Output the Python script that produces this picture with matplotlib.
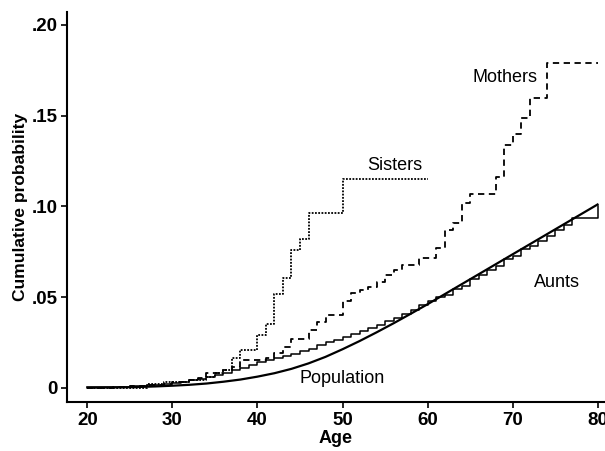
import matplotlib.pyplot as plt
import numpy as np

plt.rcParams['font.family'] = ['Liberation Sans', 'DejaVu Sans']

# step functions: age where each step starts, cumulative probability
sisters_age = [20, 27, 29, 32, 34, 35, 36, 37, 38, 40, 41, 42, 43, 44, 45, 46, 50, 60]
sisters_p = [0.0, 0.002, 0.003, 0.004, 0.006, 0.008, 0.010, 0.0162, 0.0208, 0.029,
             0.035, 0.0517, 0.0606, 0.0759, 0.0818, 0.0965, 0.115, 0.115]

mothers_age = [20, 23, 25, 27, 29, 30, 32, 33, 34, 36, 37, 38, 41, 42, 43, 44, 46, 47,
               48, 50, 51, 52, 53, 54, 55, 56, 57, 59, 61, 62, 63, 64, 65, 68, 69, 70,
               71, 72, 74, 80]
mothers_p = [0.0, 0.0005, 0.001, 0.0015, 0.002, 0.003, 0.004, 0.0052, 0.008, 0.0098,
             0.0116, 0.0150, 0.0165, 0.019, 0.0226, 0.027, 0.032, 0.036, 0.040, 0.048,
             0.052, 0.054, 0.0557, 0.0584, 0.062, 0.065, 0.0676, 0.0715, 0.0768, 0.087,
             0.0906, 0.1016, 0.1068, 0.1163, 0.1338, 0.140, 0.1485, 0.1595, 0.179, 0.179]

aunts_age = [20, 22, 25, 27, 29, 30, 31, 32, 33, 34, 35, 36, 37, 38, 39, 40, 41, 42, 43,
             44, 45, 46, 47, 48, 49, 50, 51, 52, 53, 54, 55, 56, 57, 58, 59, 60, 61, 62,
             63, 64, 65, 66, 67, 68, 69, 70, 71, 72, 73, 74, 75, 76, 77, 80]
aunts_p = [0.0003, 0.0005, 0.0008, 0.0015, 0.0020, 0.0025, 0.0032, 0.0040, 0.0048,
           0.0058, 0.0068, 0.0080, 0.0095, 0.0110, 0.0125, 0.0140, 0.0150, 0.0162,
           0.0175, 0.0188, 0.0200, 0.0215, 0.0235, 0.0250, 0.0265, 0.0280, 0.0295,
           0.0310, 0.0328, 0.0345, 0.0365, 0.0385, 0.0405, 0.0430, 0.0455, 0.0480,
           0.0500, 0.0510, 0.0545, 0.0560, 0.0600, 0.0620, 0.0650, 0.0670, 0.0710,
           0.0725, 0.0765, 0.0780, 0.0810, 0.0835, 0.0870, 0.0895, 0.0937, 0.1000]

pop_age = [20, 22, 24, 26, 28, 30, 32, 34, 36, 38, 40, 42, 44, 46, 48, 50, 52, 54, 56,
           58, 60, 62, 64, 66, 68, 70, 72, 74, 76, 78, 80]
pop_p = [0.0, 0.0001, 0.0002, 0.0004, 0.0007, 0.0011, 0.0016, 0.0023, 0.0033, 0.0045,
         0.0061, 0.0080, 0.0104, 0.0134, 0.0170, 0.0212, 0.0257, 0.0305, 0.0355, 0.0407,
         0.0460, 0.0515, 0.0570, 0.0625, 0.0680, 0.0735, 0.0790, 0.0845, 0.0900, 0.0955,
         0.1010]

yticks = [0, 0.05, 0.10, 0.15, 0.20]
ytick_labels = ['0', '.05', '.10', '.15', '.20']
xticks = [20, 30, 40, 50, 60, 70, 80]

fig = plt.figure(figsize=(6.05, 4.51), dpi=100)
ax = fig.add_axes([67 / 605, 48.7 / 451, 538 / 605, 390.6 / 451])

ax.step(sisters_age, sisters_p, where='post', color='black', lw=1.3, linestyle=(0, (1, 0.8)))
ax.step(mothers_age, mothers_p, where='post', color='black', lw=1.3, linestyle=(0, (3.5, 2.5)))
ax.step(aunts_age, aunts_p, where='post', color='black', lw=1.1)
ax.plot(pop_age, pop_p, color='black', lw=1.6)

lab = dict(fontsize=13, ha='center', va='center')
ax.text(56.2, 0.1227, 'Sisters', **lab)
ax.text(69.1, 0.171, 'Mothers', **lab)
ax.text(75.2, 0.058, 'Aunts', **lab)
ax.text(50.0, 0.0053, 'Population', **lab)

ax.set_xlim(17.59, 80.88)
ax.set_ylim(-0.00805, 0.2073)
ax.set_xticks(xticks)
ax.set_yticks(yticks)
ax.set_yticklabels(ytick_labels)
ax.tick_params(labelsize=13.5, length=4, width=1.2, direction='out', pad=3)
for t in ax.get_xticklabels() + ax.get_yticklabels():
    t.set_fontweight('bold')
for s in ['top', 'right']:
    ax.spines[s].set_visible(False)
for s in ['left', 'bottom']:
    ax.spines[s].set_linewidth(1.5)

ax.set_xlabel('Age', fontsize=13, fontweight='bold', labelpad=1)
ax.set_ylabel('Cumulative probability', fontsize=12.5, fontweight='bold', labelpad=2)

fig.savefig('out.png', dpi=100)
